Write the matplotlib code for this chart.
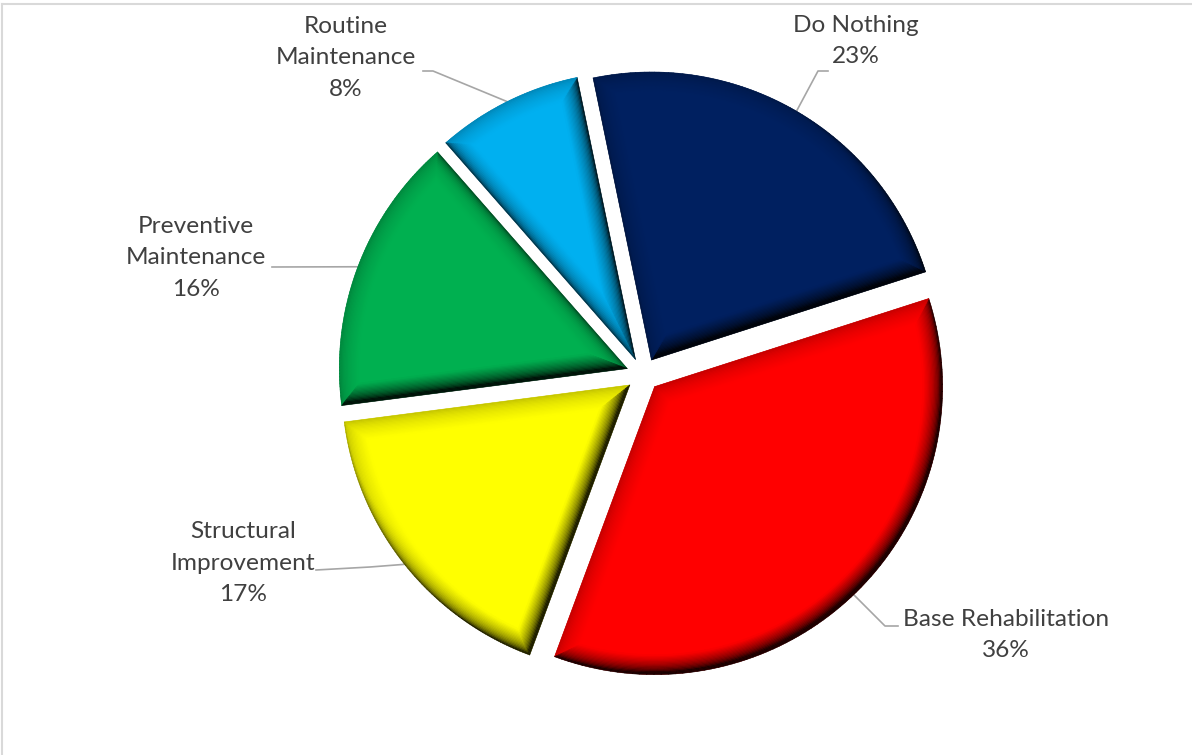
import numpy as np
import matplotlib.pyplot as plt
from matplotlib.collections import PolyCollection
from matplotlib.colors import to_rgb
from matplotlib.lines import Line2D

categories = ['Do Nothing', 'Base Rehabilitation', 'Structural\nImprovement',
              'Preventive\nMaintenance', 'Routine\nMaintenance']
shares = [23.3, 35.6, 17.3, 15.6, 8.2]
slice_colors = ['#002060', '#FF0000', '#FFFF00', '#00B050', '#00B0F0']

W, H = 1192, 755
# label layout, pixel coords measured from the top-left corner
label_pos = [(856, 41), (1006, 635), (243, 563), (196, 258), (346, 58)]
leader_knee = [(818, 71), (885, 626), (370, 567), (272, 267), (433, 71)]
leader_tail = [(828, 71), (898, 626), (316, 570), (272, 267), (423, 71)]

TXT = '#404040'
LEAD = '#a6a6a6'
FRAME = '#d9d9d9'

plt.rcParams['font.family'] = ['Lato', 'DejaVu Sans']

fig = plt.figure(figsize=(W / 100, H / 100), dpi=100)
ax = fig.add_axes([0, 0, 1, 1])

wedges, _ = ax.pie(shares, colors=slice_colors, startangle=101.7, counterclock=False,
                   explode=[16.8] * len(shares), radius=288, center=(643, H - 374.5),
                   wedgeprops=dict(linewidth=0))
ax.set_xlim(0, W)
ax.set_ylim(0, H)
ax.set_aspect('auto')
ax.axis('off')

# fake "circle" bevel: shaded bands along the edge of every slice
BEVEL = 20
BANDS = 16
AMB = 0.12
el, az = np.radians(40), np.radians(125)
light = np.array([np.cos(az) * np.cos(el), np.sin(az) * np.cos(el), np.sin(el)])


def ring(c, r, t1, t2, d, n=90):
    mid = 0.5 * (t1 + t2)
    apex = c + d / np.sin(0.5 * (t2 - t1)) * np.array([np.cos(mid), np.sin(mid)])
    off = np.arcsin(d / (r - d))
    th = np.linspace(t1 + off, t2 - off, n)
    arc = c + (r - d) * np.column_stack([np.cos(th), np.sin(th)])
    return np.vstack([apex, arc, apex])


for w in wedges:
    c = np.array(w.center)
    t1, t2 = np.radians(w.theta1), np.radians(w.theta2)
    base = np.array(to_rgb(w.get_facecolor()))
    outer0 = ring(c, w.r, t1, t2, 0)
    seg = np.diff(outer0, axis=0)
    nrm = np.column_stack([seg[:, 1], -seg[:, 0]])
    nrm /= np.linalg.norm(nrm, axis=1)[:, None]
    quads, cols = [], []
    for k in range(BANDS):
        d0, d1 = BEVEL * k / BANDS, BEVEL * (k + 1) / BANDS
        o = ring(c, w.r, t1, t2, d0)
        i = ring(c, w.r, t1, t2, d1)
        t = (k + 0.5) / BANDS
        slope = (1 - t) / np.sqrt(1 - (1 - t) ** 2)
        phi = np.arctan(0.6 * slope)
        dots = np.sin(phi) * (nrm @ light[:2]) + np.cos(phi) * light[2]
        s = AMB + (1 - AMB) * np.clip(dots, 0, None) / light[2]
        s = np.minimum(s, 1.0) * (1 - 0.25 * np.sin(phi))
        for j in range(len(seg)):
            quads.append([o[j], o[j + 1], i[j + 1], i[j]])
            cols.append(base * s[j])
    pc = PolyCollection(quads, facecolors=cols, edgecolors=cols, linewidths=0.4, zorder=2)
    ax.add_collection(pc)

for w, lab, share, pos, knee, tail in zip(wedges, categories, shares,
                                          label_pos, leader_knee, leader_tail):
    mid = np.radians(0.5 * (w.theta1 + w.theta2))
    tip = np.array(w.center) + w.r * np.array([np.cos(mid), np.sin(mid)])
    ax.plot([tip[0], knee[0], tail[0]], [tip[1], H - knee[1], H - tail[1]],
            color=LEAD, lw=1.2, zorder=0.5)
    ax.text(pos[0], H - pos[1], f'{lab}\n{share:.0f}%', color=TXT, fontsize=17.6,
            ha='center', va='center', multialignment='center', linespacing=1.6)

fig.add_artist(Line2D([2 / W, 1], [1 - 4 / H, 1 - 4 / H], transform=fig.transFigure,
                      color=FRAME, lw=1.5))
fig.add_artist(Line2D([2 / W, 2 / W], [0, 1 - 4 / H], transform=fig.transFigure,
                      color=FRAME, lw=1.5))

fig.savefig('out.png', dpi=100, facecolor='white')
